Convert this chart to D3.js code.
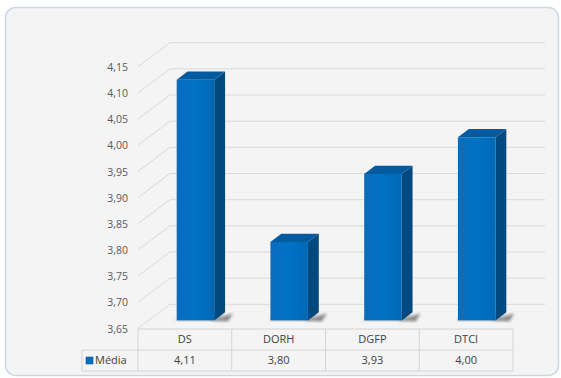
<!DOCTYPE html>
<html>
<head>
<meta charset="utf-8">
<script src="https://cdn.jsdelivr.net/npm/d3@7"></script>
<style>
  body { margin: 0; background: #ffffff; }
  svg { display: block; }
  text { font-family: "Open Sans", "Noto Sans", sans-serif; }
</style>
</head>
<body>
<svg id="chart" width="561" height="378"></svg>
<script>
// Data
const categories = ["DS", "DORH", "DGFP", "DTCI"];
const media = [4.11, 3.80, 3.93, 4.00];
const seriesName = "Média";
const tickValues = [3.65, 3.70, 3.75, 3.80, 3.85, 3.90, 3.95, 4.00, 4.05, 4.10, 4.15];

// Portuguese number format (decimal comma)
const pt = d3.formatLocale({ decimal: ",", thousands: ".", grouping: [3], currency: ["", " €"] });
const fmt = pt.format(".2f");

const svg = d3.select("#chart");

// Layout of the 3D box: front plane plus depth offset to the back wall
const front = { left: 138, right: 513, top: 66.7, bottom: 328.3 };
const depth = { dx: 32, dy: -24 };
const barDepth = [0.33, 0.67];   // fraction of depth occupied by columns
const barWidthRatio = 0.4;

const x = d3.scaleBand().domain(categories).range([front.left, front.right]);
const y = d3.scaleLinear().domain([tickValues[0], tickValues[tickValues.length - 1]])
  .range([front.bottom, front.top]);

// Panel
svg.append("rect")
  .attr("x", 5.5).attr("y", 7.5).attr("width", 553).attr("height", 368)
  .attr("rx", 10).attr("ry", 10)
  .attr("fill", "#f4f4f4").attr("stroke", "#cbd7e8").attr("stroke-width", 1.5);

const defs = svg.append("defs");
const gFront = defs.append("linearGradient").attr("id", "barFront").attr("x1", 0).attr("x2", 1);
gFront.append("stop").attr("offset", 0).attr("stop-color", "#0a6cbd");
gFront.append("stop").attr("offset", 0.5).attr("stop-color", "#0072c4");
gFront.append("stop").attr("offset", 1).attr("stop-color", "#0068b6");
defs.append("filter").attr("id", "soft")
  .append("feGaussianBlur").attr("stdDeviation", 1.6);

// Back wall gridlines and left wall diagonals
const grid = svg.append("g").attr("stroke", "#d9d9d9").attr("stroke-width", 1).attr("fill", "none");
tickValues.forEach(v => {
  const yf = y(v);
  grid.append("line")
    .attr("x1", front.left + depth.dx).attr("x2", front.right + depth.dx)
    .attr("y1", yf + depth.dy).attr("y2", yf + depth.dy);
  grid.append("line")
    .attr("x1", front.left).attr("y1", yf)
    .attr("x2", front.left + depth.dx).attr("y2", yf + depth.dy);
});

// Y axis labels
svg.append("g").selectAll("text").data(tickValues).join("text")
  .attr("x", front.left - 10)
  .attr("y", d => y(d) + 1.5)
  .attr("text-anchor", "end")
  .attr("dominant-baseline", "middle")
  .attr("font-size", 10.5)
  .attr("fill", "#595959")
  .text(d => fmt(d));

// Columns
const bars = svg.append("g");
categories.forEach((c, i) => {
  const v = media[i];
  const bw = x.bandwidth() * barWidthRatio;
  const cx = x(c) + x.bandwidth() / 2;
  const f0 = barDepth[0], f1 = barDepth[1];
  const x0 = cx - bw / 2 + depth.dx * f0, x1 = x0 + bw;
  const yTop = y(v) + depth.dy * f0, yBot = y(tickValues[0]) + depth.dy * f0;
  const ddx = depth.dx * (f1 - f0), ddy = depth.dy * (f1 - f0);

  // floor shadow
  bars.append("path")
    .attr("d", `M${x1 - 4},${yBot} L${x1 + ddx + 8},${yBot + ddy + 1} L${x1 + ddx + 3},${yBot + 1} Z`)
    .attr("fill", "#444").attr("opacity", 0.6).attr("filter", "url(#soft)");
  bars.append("path")
    .attr("d", `M${x0 - 2},${yBot + 0.5} L${x1 + 2},${yBot + 0.5} L${x1 + ddx},${yBot + ddy} L${x0 + ddx},${yBot + ddy} Z`)
    .attr("fill", "#555").attr("opacity", 0.35).attr("filter", "url(#soft)");

  // side face
  bars.append("path")
    .attr("d", `M${x1},${yTop} L${x1 + ddx},${yTop + ddy} L${x1 + ddx},${yBot + ddy} L${x1},${yBot} Z`)
    .attr("fill", "#02497f");
  // top face
  bars.append("path")
    .attr("d", `M${x0},${yTop} L${x1},${yTop} L${x1 + ddx},${yTop + ddy} L${x0 + ddx},${yTop + ddy} Z`)
    .attr("fill", "#035a9e");
  // front face
  bars.append("rect")
    .attr("x", x0).attr("y", yTop).attr("width", bw).attr("height", yBot - yTop)
    .attr("fill", "url(#barFront)");
});

// Data table
const table = svg.append("g");
const rowTop = front.bottom + 0.7, rowMid = rowTop + 21, rowBot = rowMid + 21;
const legendLeft = 82;
const tl = table.append("g").attr("stroke", "#d4d4d4").attr("stroke-width", 1).attr("fill", "none");
tl.append("line").attr("x1", front.left).attr("x2", front.right).attr("y1", rowTop).attr("y2", rowTop);
tl.append("line").attr("x1", legendLeft).attr("x2", front.right).attr("y1", rowMid).attr("y2", rowMid);
tl.append("line").attr("x1", legendLeft).attr("x2", front.right).attr("y1", rowBot).attr("y2", rowBot);
tl.append("line").attr("x1", legendLeft).attr("x2", legendLeft).attr("y1", rowMid).attr("y2", rowBot);
categories.concat([null]).forEach((c, i) => {
  const xx = c === null ? front.right : x(c);
  tl.append("line").attr("x1", xx).attr("x2", xx).attr("y1", rowTop).attr("y2", rowBot);
});

table.selectAll("text.cat").data(categories).join("text")
  .attr("class", "cat")
  .attr("x", d => x(d) + x.bandwidth() / 2)
  .attr("y", (rowTop + rowMid) / 2 + 1)
  .attr("text-anchor", "middle").attr("dominant-baseline", "middle")
  .attr("font-size", 11).attr("fill", "#404040")
  .text(d => d);

table.selectAll("text.val").data(media).join("text")
  .attr("class", "val")
  .attr("x", (d, i) => x(categories[i]) + x.bandwidth() / 2)
  .attr("y", (rowMid + rowBot) / 2 + 1)
  .attr("text-anchor", "middle").attr("dominant-baseline", "middle")
  .attr("font-size", 11).attr("fill", "#404040")
  .text(d => fmt(d));

// Legend key
table.append("rect")
  .attr("x", legendLeft + 4).attr("y", (rowMid + rowBot) / 2 - 3.5)
  .attr("width", 7).attr("height", 7)
  .attr("fill", "#0070c0").attr("stroke", "#0a5a9a").attr("stroke-width", 0.6);
table.append("text")
  .attr("x", legendLeft + 13).attr("y", (rowMid + rowBot) / 2 + 1)
  .attr("dominant-baseline", "middle")
  .attr("font-size", 11).attr("fill", "#404040")
  .text(seriesName);
</script>
</body>
</html>
